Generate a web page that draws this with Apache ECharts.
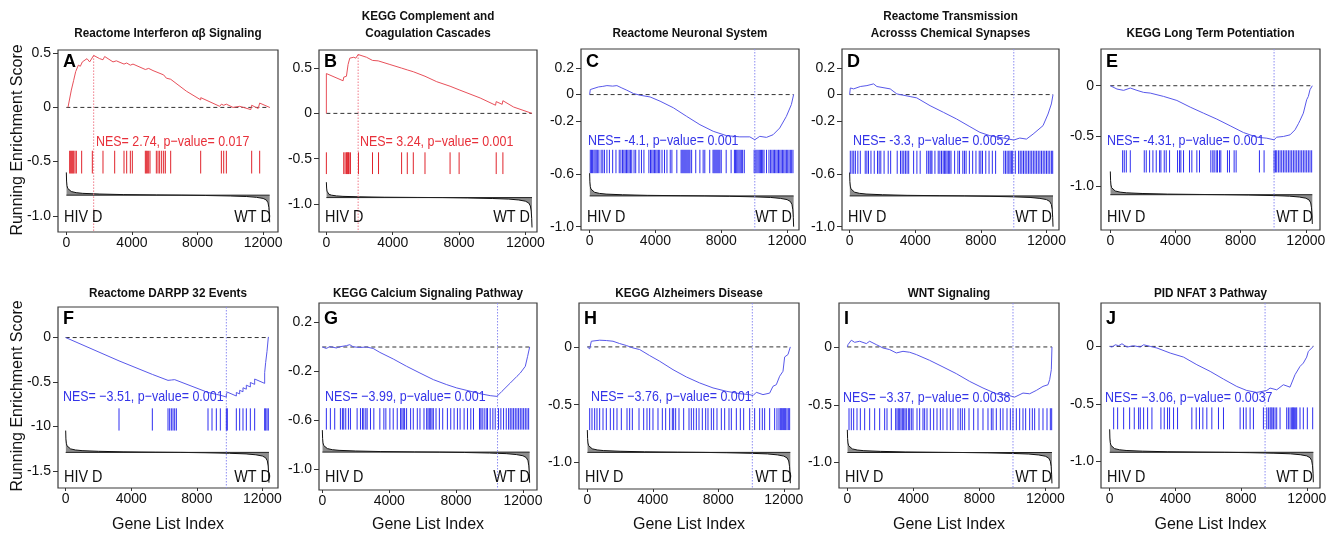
<!DOCTYPE html>
<html><head><meta charset="utf-8">
<script src="https://cdn.jsdelivr.net/npm/echarts@6/dist/echarts.min.js"></script>
<style>html,body{margin:0;padding:0;background:#fff}#c{width:1336px;height:536px}</style>
</head><body><div id="c"></div>
<script>
const FONT = "'Liberation Sans', Arial, Helvetica, sans-serif";
const N_GENES = 12400;
const PANEL_IDS = ['A','B','C','D','E','F','G','H','I','J'];
const X_TICKS = [0, 4000, 8000, 12000];
const X_TICK_LABELS = ['0', '4000', '8000', '12000'];

// ---- titles / annotations ----
const TITLES = {
  A: ['Reactome Interferon \u03b1\u03b2 Signaling'],
  B: ['KEGG Complement and', 'Coagulation Cascades'],
  C: ['Reactome Neuronal System'],
  D: ['Reactome Transmission', 'Acrosss Chemical Synapses'],
  E: ['KEGG Long Term Potentiation'],
  F: ['Reactome DARPP 32 Events'],
  G: ['KEGG Calcium Signaling Pathway'],
  H: ['KEGG Alzheimers Disease'],
  I: ['WNT Signaling'],
  J: ['PID NFAT 3 Pathway']
};
const NES_TEXT = {
  A: 'NES= 2.74, p\u2212value= 0.017',
  B: 'NES= 3.24, p\u2212value= 0.001',
  C: 'NES= -4.1, p\u2212value= 0.001',
  D: 'NES= -3.3, p\u2212value= 0.0052',
  E: 'NES= -4.31, p\u2212value= 0.001',
  F: 'NES= \u22123.51, p\u2212value= 0.001',
  G: 'NES= \u22123.99, p\u2212value= 0.001',
  H: 'NES= \u22123.76, p\u2212value= 0.001',
  I: 'NES= \u22123.37, p\u2212value= 0.0038',
  J: 'NES= \u22123.06, p\u2212value= 0.0037'
};

// ---- y ticks ----
const A_YTICKS = [0.5, 0, -0.5, -1.0]; const A_YLABELS = ['0.5', '0', '-0.5', '-1.0'];
const B_YTICKS = [0.5, 0, -0.5, -1.0]; const B_YLABELS = ['0.5', '0', '-0.5', '-1.0'];
const C_YTICKS = [0.2, 0, -0.2, -0.6, -1.0]; const C_YLABELS = ['0.2', '0', '-0.2', '-0.6', '-1.0'];
const D_YTICKS = [0.2, 0, -0.2, -0.6, -1.0]; const D_YLABELS = ['0.2', '0', '-0.2', '-0.6', '-1.0'];
const E_YTICKS = [0, -0.5, -1.0]; const E_YLABELS = ['0', '-0.5', '-1.0'];
const F_YTICKS = [0, -0.5, -1.0, -1.5]; const F_YLABELS = ['0', '-0.5', '-10', '-1.5'];
const G_YTICKS = [0.2, -0.2, -0.6, -1.0]; const G_YLABELS = ['0.2', '-0.2', '-0.6', '-1.0'];
const H_YTICKS = [0, -0.5, -1.0]; const H_YLABELS = ['0', '-0.5', '-1.0'];
const I_YTICKS = [0, -0.5, -1.0]; const I_YLABELS = ['0', '-0.5', '-1.0'];
const J_YTICKS = [0, -0.5, -1.0]; const J_YLABELS = ['0', '-0.5', '-1.0'];

// ---- running enrichment score curves [gene index, ES] ----
const A_ES = [[100,0],[305,0.16],[447,0.25],[569,0.33],[732,0.39],[854,0.38],[976,0.42],[1260,0.45],[1423,0.42],[1667,0.48],[2033,0.45],[2236,0.44],[2338,0.47],[2846,0.42],[2948,0.43],[3050,0.43],[3517,0.40],[3680,0.41],[3903,0.39],[4066,0.40],[4818,0.35],[5022,0.36],[5286,0.34],[5936,0.30],[6099,0.27],[6363,0.26],[7319,0.15],[8193,0.07],[8200,0.09],[9352,0.01],[9454,0.03],[9596,0.02],[9758,0.03],[10165,0.0],[10572,0.01],[11250,-0.02],[11303,0.02],[11700,-0.01],[11791,0.04],[12400,0]];
const B_ES = [[0,0],[0,0.44],[1008,0.36],[1048,0.40],[1210,0.41],[1310,0.54],[1411,0.61],[1512,0.63],[1653,0.62],[1774,0.61],[1915,0.65],[2419,0.62],[2782,0.585],[2800,0.60],[3125,0.58],[3145,0.60],[3830,0.54],[4536,0.50],[4879,0.48],[5242,0.46],[5947,0.41],[6653,0.35],[7459,0.30],[8004,0.26],[9274,0.17],[10200,0.09],[10241,0.13],[10600,0.10],[10644,0.14],[11290,0.07],[12400,0.0]];
const C_ES = [[0,0],[40,0.038],[141,0.05],[545,0.058],[800,0.062],[1050,0.068],[1400,0.064],[1656,0.068],[1959,0.05],[2262,0.033],[2666,0.008],[3070,-0.005],[3676,-0.018],[4282,-0.05],[5090,-0.10],[5898,-0.165],[6706,-0.228],[7514,-0.278],[8322,-0.311],[9130,-0.32],[9736,-0.32],[10039,-0.342],[10342,-0.316],[10746,-0.324],[11150,-0.304],[11554,-0.253],[11958,-0.165],[12261,-0.076],[12400,0]];
const D_ES = [[0,0],[41,0.05],[243,0.043],[648,0.061],[1054,0.068],[1459,0.081],[1661,0.061],[2472,0.043],[2877,0.005],[3687,-0.015],[4093,-0.025],[4903,-0.084],[5713,-0.134],[6524,-0.185],[7334,-0.243],[7942,-0.286],[8550,-0.311],[9360,-0.329],[10008,-0.344],[10373,-0.329],[10778,-0.337],[11184,-0.299],[11791,-0.235],[12096,-0.147],[12299,-0.071],[12400,0]];
const E_ES = [[0,0],[409,-0.033],[817,-0.046],[919,-0.033],[1226,-0.023],[1328,-0.013],[1634,-0.046],[2043,-0.066],[2452,-0.073],[3269,-0.106],[4086,-0.146],[4903,-0.212],[5720,-0.272],[6538,-0.331],[7355,-0.397],[8172,-0.464],[8989,-0.51],[9602,-0.52],[10052,-0.536],[10215,-0.51],[10624,-0.503],[11032,-0.487],[11339,-0.437],[11543,-0.377],[11645,-0.344],[11849,-0.272],[12053,-0.139],[12155,-0.106],[12257,-0.04],[12400,0]];
const F_ES = [[0,0],[3253,-0.262],[3253,-0.25],[5286,-0.414],[5286,-0.404],[6241,-0.481],[6241,-0.471],[6343,-0.479],[6343,-0.469],[6445,-0.477],[6445,-0.467],[6546,-0.475],[6546,-0.465],[6648,-0.473],[6648,-0.463],[6750,-0.471],[6750,-0.461],[8681,-0.617],[8681,-0.607],[8925,-0.627],[8925,-0.617],[9189,-0.638],[9189,-0.628],[9433,-0.648],[9433,-0.638],[9799,-0.668],[9799,-0.638],[9860,-0.643],[9860,-0.613],[10409,-0.657],[10409,-0.617],[10612,-0.633],[10612,-0.593],[10815,-0.609],[10815,-0.564],[11019,-0.58],[11019,-0.535],[11263,-0.555],[11263,-0.505],[11527,-0.526],[11527,-0.466],[12137,-0.515],[12137,-0.395],[12198,-0.40],[12198,-0.28],[12279,-0.287],[12279,-0.157],[12360,-0.164],[12360,0.003],[12400,0]];
const G_ES = [[0,0],[240,-0.012],[440,0.003],[840,-0.008],[1040,0.002],[1440,0.011],[1640,0.019],[1840,0.002],[2240,-0.004],[2640,0.0],[3040,-0.012],[3440,-0.044],[4240,-0.098],[5040,-0.158],[5840,-0.213],[6640,-0.267],[7440,-0.308],[8040,-0.335],[8640,-0.355],[9440,-0.382],[10040,-0.398],[10440,-0.404],[10740,-0.363],[11240,-0.295],[11640,-0.24],[11840,-0.213],[12140,-0.158],[12280,-0.076],[12400,0]];
const H_ES = [[0,0],[143,-0.017],[244,0.049],[753,0.058],[1160,0.055],[1568,0.049],[1975,0.029],[2382,0.012],[2789,-0.009],[3197,-0.023],[3807,-0.075],[4418,-0.124],[5233,-0.197],[6047,-0.26],[6861,-0.312],[7676,-0.355],[8490,-0.384],[9305,-0.405],[9915,-0.413],[10119,-0.422],[10322,-0.393],[10729,-0.413],[11136,-0.40],[11340,-0.341],[11544,-0.327],[11747,-0.254],[11951,-0.211],[12053,-0.087],[12257,-0.066],[12400,0]];
const I_ES = [[0,0],[40,0.02],[242,0.058],[444,0.04],[747,0.049],[1151,0.029],[1353,0.049],[1757,0.02],[2161,-0.009],[2565,-0.023],[2969,-0.052],[3373,-0.038],[3777,-0.046],[4181,-0.066],[4989,-0.116],[5797,-0.173],[6605,-0.231],[7413,-0.298],[8221,-0.355],[9029,-0.405],[9837,-0.422],[10140,-0.434],[10645,-0.399],[11049,-0.405],[11453,-0.376],[11857,-0.341],[12160,-0.327],[12261,-0.283],[12362,-0.197],[12400,0]];
const J_ES = [[0,0],[142,-0.006],[344,0.014],[547,0.006],[750,0.023],[1054,-0.006],[1459,0.006],[1864,-0.006],[2067,0.014],[2472,0],[2877,-0.014],[3687,-0.058],[4498,-0.093],[5308,-0.159],[6119,-0.217],[6929,-0.284],[7739,-0.348],[8347,-0.383],[8955,-0.40],[9563,-0.383],[9765,-0.362],[10170,-0.377],[10575,-0.333],[10980,-0.354],[11284,-0.246],[11588,-0.174],[11791,-0.145],[11994,-0.093],[12096,-0.043],[12197,-0.029],[12400,0]];

// ---- positions of gene-set hits ----
const A_HITS = [203,264,325,386,447,529,610,935,1586,2236,2948,3517,3680,3903,4025,4818,4879,4940,5022,5103,5489,5591,5692,5814,5936,6038,6363,8193,9454,9596,9758,11303,11791];
const B_HITS = [0,1048,1129,1210,1250,1290,1331,1371,1452,1935,2782,3145,4536,4879,5242,5947,7459,8004,10241,10644];
const C_HITS = [40,110,180,260,330,400,470,560,700,800,900,1050,1200,1400,1600,1800,1900,2000,2080,2160,2240,2320,2400,2480,2560,2700,2800,3000,3150,3300,3600,3700,3780,3860,3940,4020,4100,4180,4260,4400,4550,4700,4900,5000,5300,5560,5620,5680,5740,5800,5860,5920,5980,6040,6100,6200,6450,6700,6900,7000,7300,7500,7560,7620,7680,7740,7800,7860,7920,8000,8300,8600,8800,8870,8940,9010,9080,9150,9220,9300,9400,10000,10100,10170,10240,10310,10380,10450,10520,10600,10750,10900,11000,11080,11160,11240,11320,11400,11480,11560,11640,11720,11800,11880,11960,12040,12120,12200,12280,12360];
const D_HITS = [40,150,250,350,500,650,950,1050,1150,1300,1500,1700,1800,1900,2100,2350,2500,2900,3100,3200,3300,3400,3500,3600,3900,4100,4300,4700,4800,4900,4960,5020,5200,5400,5500,5600,5700,5780,5860,5940,6020,6100,6180,6400,6600,6700,6900,7000,7100,7300,7500,7700,7900,8000,8100,8300,8500,8700,8900,9400,9500,9600,9700,9780,9860,9940,10100,10300,10400,10500,10600,10700,10800,10900,11000,11100,11200,11300,11400,11500,11600,11700,11800,11900,12000,12100,12200,12300,12380];
const E_HITS = [756,858,981,1226,2084,2206,2411,2615,2819,3024,3105,3310,3432,3637,4127,4249,4331,4495,4862,5005,5312,5475,6170,6292,6374,6497,6578,6701,6783,7191,7314,7600,7723,9153,9439,10052,10134,10215,10317,10419,10521,10624,10726,10828,10930,11032,11134,11237,11339,11441,11543,11645,11747,11849,11951,12053,12155,12257,12359];
const F_HITS = [3253,5286,6241,6343,6445,6546,6648,6750,8681,8925,9189,9433,9799,9860,10409,10612,10815,11019,11263,11527,12137,12198,12279,12360];
const G_HITS = [240,480,740,1080,1200,1280,1400,1560,1680,2080,2280,2400,2480,2600,2680,2880,3080,3440,3680,3800,4040,4240,4480,4680,4760,4840,4920,5040,5280,5440,5680,5840,6080,6240,6320,6400,6480,6560,6640,6800,7000,7200,7480,7680,7880,8080,8240,8480,8680,8880,9040,9400,9480,9560,9680,9800,9880,10040,10200,10340,10540,10680,10840,11000,11140,11240,11340,11440,11540,11640,11740,11840,11940,12040,12140,12240,12340];
const H_HITS = [143,285,448,590,753,957,1160,1405,1608,1812,2077,2423,2586,2749,3156,3441,3644,3807,4010,4316,4581,4785,5029,5192,5273,5395,5599,5884,6210,6352,6495,6658,6821,7024,7228,7370,7574,7716,7920,8185,8388,8653,8796,9101,9345,9549,9915,10220,10526,10688,10831,11136,11442,11584,11706,11788,11849,11910,11991,12053,12114,12195,12277,12358];
const I_HITS = [101,242,384,586,788,1050,1353,1656,1959,2262,2404,2666,2929,3010,3091,3171,3252,3333,3414,3495,3575,3697,3777,3878,3979,4222,4383,4585,4686,4828,5030,5232,5434,5636,5797,6040,6242,6403,6706,6848,6969,7110,7373,7656,7918,8221,8524,8726,8827,9029,9272,9433,9676,9878,10039,10241,10443,10645,10807,11049,11211,11352,11615,11857,12100,12302,12383];
const J_HITS = [243,486,851,1216,1499,1763,1864,2067,2310,2573,3120,3323,3525,3647,3890,4133,5004,5268,5470,5673,5916,6220,6625,6929,7942,8145,8307,8550,8752,9360,9563,9664,9765,9826,9887,9968,10069,10170,10373,10778,10879,10980,11082,11142,11183,11244,11325,11386,11588,11791,12034,12359];

// ---- ranked list metric (shared shape, normalised) ----
const RANK_X = [0, 15, 40, 80, 150, 300, 600, 1000, 2000, 3500, 5500, 7000, 8500, 10000, 11000, 11600, 12000, 12200, 12300, 12350, 12380, 12400];
const RANK_M = [1, 0.62, 0.42, 0.3, 0.22, 0.16, 0.11, 0.08, 0.05, 0.025, 0.01, 0, -0.012, -0.03, -0.05, -0.08, -0.12, -0.18, -0.28, -0.45, -0.7, -1];
// per panel: [baseline, top of metric, bottom of metric]
const A_RANK = [-0.81, -0.60, -1.06];
const B_RANK = [-0.93, -0.76, -1.26];
const C_RANK = [-0.767, -0.595, -1.0];
const D_RANK = [-0.767, -0.59, -1.0];
const E_RANK = [-1.08, -0.85, -1.37];
const F_RANK = [-1.29, -1.045, -1.63];
const G_RANK = [-0.86, -0.68, -1.11];
const H_RANK = [-0.913, -0.72, -1.18];
const I_RANK = [-0.913, -0.717, -1.18];
const J_RANK = [-0.92, -0.72, -1.18];

// ---- leading-edge (peak) positions ----
const PEAK_X = {A:1667, B:1915, C:10039, D:10008, E:10052, F:9799, G:10480, H:10078, I:10039, J:9461};
const PEAK_Y = {A:0.48, B:0.65};

// ---- hit bands [top, bottom] ----
const HIT_BAND = {A:[-0.40,-0.61], B:[-0.43,-0.67], C:[-0.418,-0.595], D:[-0.425,-0.60], E:[-0.64,-0.86],
  F:[-0.795,-1.045], G:[-0.50,-0.676], H:[-0.53,-0.72], I:[-0.53,-0.72], J:[-0.53,-0.72]};

const DATA = {
  A:{es:A_ES, hits:A_HITS, rank:A_RANK, yt:A_YTICKS, yl:A_YLABELS},
  B:{es:B_ES, hits:B_HITS, rank:B_RANK, yt:B_YTICKS, yl:B_YLABELS},
  C:{es:C_ES, hits:C_HITS, rank:C_RANK, yt:C_YTICKS, yl:C_YLABELS},
  D:{es:D_ES, hits:D_HITS, rank:D_RANK, yt:D_YTICKS, yl:D_YLABELS},
  E:{es:E_ES, hits:E_HITS, rank:E_RANK, yt:E_YTICKS, yl:E_YLABELS},
  F:{es:F_ES, hits:F_HITS, rank:F_RANK, yt:F_YTICKS, yl:F_YLABELS},
  G:{es:G_ES, hits:G_HITS, rank:G_RANK, yt:G_YTICKS, yl:G_YLABELS},
  H:{es:H_ES, hits:H_HITS, rank:H_RANK, yt:H_YTICKS, yl:H_YLABELS},
  I:{es:I_ES, hits:I_HITS, rank:I_RANK, yt:I_YTICKS, yl:I_YLABELS},
  J:{es:J_ES, hits:J_HITS, rank:J_RANK, yt:J_YTICKS, yl:J_YLABELS}
};

// ---- layout (pixels) and axis extents ----
const LAYOUT = {
  A:{box:[58,50,220,182], x:[-508,12908], y:[-1.15,0.53], row:0, nes:[96,142]},
  B:{box:[319,50,218,182], x:[-444,12700], y:[-1.31,0.70], row:0, nes:[360,142]},
  C:{box:[581,49,218,181], x:[-525,12726], y:[-1.025,0.345], row:0, nes:[588,141]},
  D:{box:[842,49,217,181], x:[-466,12764], y:[-1.025,0.345], row:0, nes:[853,141]},
  E:{box:[1101,49,219,181], x:[-572,12871], y:[-1.43,0.364], row:0, nes:[1107,141]},
  F:{box:[58,307,220,181], x:[-468,12950], y:[-1.69,0.343], row:1, nes:[63,397]},
  G:{box:[319,303,218,187], x:[-200,12840], y:[-1.17,0.36], row:1, nes:[325,397]},
  H:{box:[579,303,220,186], x:[-509,12929], y:[-1.23,0.38], row:1, nes:[591,397]},
  I:{box:[839,303,220,185], x:[-505,12827], y:[-1.22,0.38], row:1, nes:[843,398]},
  J:{box:[1101,303,219,185], x:[-527,12805], y:[-1.23,0.377], row:1, nes:[1105,398]}
};

const RED = {line:'#e8505a', hit:'#e0242c', text:'#e8303a', dot:'#f07a88'};
const BLUE = {line:'#5858ea', hit:'#2e2ef0', text:'#3434e8', dot:'#8c8cf2'};

function metricData(lv) {
  const [base, top, bot] = lv;
  return RANK_X.map((x, k) => {
    const m = RANK_M[k];
    return [x, m >= 0 ? base + m * (top - base) : base + (-m) * (bot - base)];
  });
}

const grids = [], xAxes = [], yAxes = [], series = [], graphics = [];

PANEL_IDS.forEach((id, i) => {
  const L = LAYOUT[id], D = DATA[id];
  const [gl, gt, gw, gh] = L.box;
  const col = (id === 'A' || id === 'B') ? RED : BLUE;
  grids.push({left:gl, top:gt, width:gw, height:gh, show:true, borderColor:'#3a3a3a', borderWidth:1.2, backgroundColor:'rgba(0,0,0,0)'});
  xAxes.push({gridIndex:i, type:'value', min:L.x[0], max:L.x[1], position:'bottom',
    axisLine:{show:false, onZero:false}, splitLine:{show:false},
    axisTick:{show:true, customValues:X_TICKS, length:3, lineStyle:{color:'#333'}},
    axisLabel:{customValues:X_TICKS, formatter:(v) => X_TICK_LABELS[X_TICKS.indexOf(v)] ?? String(v),
      fontSize:14, color:'#111', margin:4, fontFamily:FONT}});
  yAxes.push({gridIndex:i, type:'value', min:L.y[0], max:L.y[1], position:'left',
    axisLine:{show:false, onZero:false}, splitLine:{show:false},
    axisTick:{show:true, customValues:D.yt, length:5, lineStyle:{color:'#333'}},
    axisLabel:{customValues:D.yt, formatter:(v) => {
        let k = D.yt.findIndex(t => Math.abs(t - v) < 1e-9); return k >= 0 ? D.yl[k] : '';
      }, fontSize:14, color:'#111', margin:7, fontFamily:FONT}});

  const base = D.rank[0];
  series.push({type:'line', xAxisIndex:i, yAxisIndex:i, data:metricData(D.rank), showSymbol:false, silent:true,
    animation:false, lineStyle:{color:'#111', width:1}, areaStyle:{color:'#8c8c8c', opacity:1, origin:base}, z:2});
  series.push({type:'line', xAxisIndex:i, yAxisIndex:i, data:[[0, base],[N_GENES, base]], showSymbol:false, silent:true,
    animation:false, lineStyle:{color:'#222', width:1}, z:3});
  series.push({type:'line', xAxisIndex:i, yAxisIndex:i, data:[[0,0],[N_GENES,0]], showSymbol:false, silent:true,
    animation:false, lineStyle:{color:'#333', width:1, type:[4,3]}, z:3});
  const pTop = PEAK_Y[id] !== undefined ? PEAK_Y[id] : L.y[1];
  series.push({type:'line', xAxisIndex:i, yAxisIndex:i, data:[[PEAK_X[id], pTop],[PEAK_X[id], L.y[0]]], showSymbol:false, silent:true,
    animation:false, lineStyle:{color:col.dot, width:1, type:[1.5,1.5]}, z:3});
  const band = HIT_BAND[id];
  series.push({type:'custom', xAxisIndex:i, yAxisIndex:i, data:D.hits.map(x => [x, band[0]]), encode:{x:0, y:1},
    silent:true, animation:false, z:4,
    renderItem:(params, api) => {
      const x = api.value(0);
      const p1 = api.coord([x, band[0]]), p2 = api.coord([x, band[1]]);
      return {type:'line', shape:{x1:p1[0], y1:p1[1], x2:p2[0], y2:p2[1]}, style:{stroke:col.hit, lineWidth:1}};
    }});
  series.push({type:'line', xAxisIndex:i, yAxisIndex:i, data:D.es, showSymbol:false, silent:true,
    animation:false, lineStyle:{color:col.line, width:1}, z:5});

  const cx = gl + gw / 2;
  const tl = TITLES[id];
  const tY = L.row === 0 ? (tl.length === 2 ? [16, 33] : [33]) : [293];
  tl.forEach((t, k) => graphics.push({type:'text', x:cx, y:tY[k], scaleX:0.9, z:10,
    style:{text:t, fontSize:13, fontWeight:'bold', fontFamily:FONT, fill:'#111', textAlign:'center', textVerticalAlign:'middle', align:'center', verticalAlign:'middle'}}));
  graphics.push({type:'text', x:gl + 5, y:L.row === 0 ? 62 : 319, z:10,
    style:{text:id, fontSize:18, fontWeight:'bold', fontFamily:FONT, fill:'#000', textAlign:'left', textVerticalAlign:'middle', align:'left', verticalAlign:'middle'}});
  graphics.push({type:'text', x:L.nes[0], y:L.nes[1], scaleX:0.83, z:10,
    style:{text:NES_TEXT[id], fontSize:15, fontFamily:FONT, fill:col.text, textAlign:'left', textVerticalAlign:'middle', align:'left', verticalAlign:'middle'}});
  const hy = L.row === 0 ? 218 : 478;
  graphics.push({type:'text', x:gl + 6, y:hy, scaleX:0.9, z:10,
    style:{text:'HIV D', fontSize:16, fontFamily:FONT, fill:'#111', textAlign:'left', textVerticalAlign:'middle', align:'left', verticalAlign:'middle'}});
  graphics.push({type:'text', x:gl + gw - 7, y:hy, scaleX:0.9, z:10,
    style:{text:'WT D', fontSize:16, fontFamily:FONT, fill:'#111', textAlign:'right', textVerticalAlign:'middle', align:'right', verticalAlign:'middle'}});
  if (L.row === 1) {
    graphics.push({type:'text', x:cx, y:525, z:10,
      style:{text:'Gene List Index', fontSize:16, fontFamily:FONT, fill:'#111', textAlign:'center', textVerticalAlign:'middle', align:'center', verticalAlign:'middle'}});
  }
});

[140, 396].forEach(yc => graphics.push({type:'text', x:18, y:yc, rotation:Math.PI / 2, z:10,
  style:{text:'Running Enrichment Score', fontSize:16, fontFamily:FONT, fill:'#111', textAlign:'center', textVerticalAlign:'middle', align:'center', verticalAlign:'middle'}}));

const chart = echarts.init(document.getElementById('c'), null, {renderer:'canvas'});
chart.setOption({animation:false, backgroundColor:'#fff', grid:grids, xAxis:xAxes, yAxis:yAxes, series:series, graphic:{elements:graphics}});
</script></body></html>
